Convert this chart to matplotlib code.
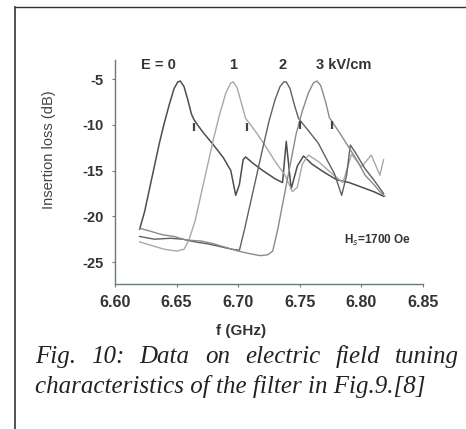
import matplotlib
matplotlib.use('Agg')
import matplotlib.pyplot as plt
from matplotlib.lines import Line2D

plt.rcParams['font.family'] = ['Liberation Sans', 'DejaVu Sans']

# insertion loss curves (f in GHz, loss in dB)
f_e0 = [6.620, 6.624, 6.628, 6.632, 6.636, 6.640, 6.644, 6.648, 6.651, 6.653, 6.656, 6.659,
        6.662, 6.664, 6.667, 6.672, 6.680, 6.688, 6.694, 6.698, 6.701, 6.704, 6.706, 6.712,
        6.720, 6.730, 6.736, 6.739, 6.743, 6.748, 6.753, 6.760, 6.770, 6.780, 6.790, 6.800,
        6.810, 6.818]
il_e0 = [-21.4, -19.5, -17.0, -14.5, -12.0, -9.8, -7.8, -6.0, -5.3, -5.2, -5.8, -7.2,
         -8.8, -9.4, -10.0, -10.9, -12.2, -13.6, -15.0, -17.7, -16.5, -13.8, -13.5, -14.2,
         -15.0, -15.9, -16.3, -11.8, -17.0, -14.5, -13.4, -14.3, -15.2, -16.0, -16.3, -16.8,
         -17.3, -17.8]

f_e1 = [6.620, 6.630, 6.640, 6.650, 6.656, 6.660, 6.665, 6.670, 6.675, 6.680, 6.685, 6.690,
        6.694, 6.696, 6.699, 6.703, 6.706, 6.709, 6.715, 6.722, 6.730, 6.738, 6.744, 6.748,
        6.752, 6.757, 6.765, 6.775, 6.785, 6.792, 6.800, 6.808, 6.815, 6.818]
il_e1 = [-22.8, -23.2, -23.6, -23.8, -23.6, -22.6, -20.5, -17.5, -14.5, -11.5, -8.8, -6.5,
         -5.4, -5.3, -5.9, -7.8, -9.3, -9.8, -10.9, -12.3, -14.0, -15.5, -17.3, -16.8,
         -14.3, -13.3, -14.0, -15.2, -16.3, -13.2, -14.6, -13.3, -15.5, -13.8]

f_e2 = [6.620, 6.632, 6.645, 6.655, 6.665, 6.675, 6.685, 6.695, 6.701, 6.705, 6.710, 6.715,
        6.720, 6.725, 6.730, 6.734, 6.737, 6.739, 6.742, 6.746, 6.749, 6.752, 6.758, 6.765,
        6.772, 6.778, 6.784, 6.788, 6.791, 6.795, 6.803, 6.810, 6.818]
il_e2 = [-22.2, -22.5, -22.4, -22.5, -22.8, -23.0, -23.3, -23.6, -23.7, -21.5, -18.5, -15.5,
         -12.5, -9.6, -7.2, -5.8, -5.3, -5.3, -6.0, -8.0, -9.3, -9.8, -10.8, -12.0,
         -13.8, -15.3, -17.7, -15.5, -12.2, -13.0, -14.8, -16.0, -17.5]

f_e3 = [6.620, 6.628, 6.638, 6.648, 6.658, 6.670, 6.680, 6.690, 6.700, 6.710, 6.718, 6.724,
        6.728, 6.732, 6.737, 6.742, 6.747, 6.752, 6.757, 6.761, 6.764, 6.767, 6.771, 6.774,
        6.777, 6.783, 6.790, 6.797, 6.803, 6.810, 6.815, 6.819]
il_e3 = [-21.3, -21.6, -22.0, -22.2, -22.6, -22.7, -23.0, -23.4, -23.8, -24.1, -24.3, -24.2,
         -23.8, -21.5, -18.0, -14.5, -11.0, -8.5, -6.5, -5.4, -5.2, -5.7, -7.5, -9.2,
         -9.8, -11.0, -12.5, -14.0, -15.5, -16.5, -17.3, -17.8]

# small vertical marks on the falling slopes
mark_f = [6.664, 6.707, 6.750, 6.776]
mark_il = [-10.2, -10.2, -10.0, -10.0]

x_ticks = [6.60, 6.65, 6.70, 6.75, 6.80, 6.85]
x_ticklabels = ['6.60', '6.65', '6.70', '6.75', '6.80', '6.85']
y_ticks = [-5, -10, -15, -20, -25]
y_ticklabels = ['-5', '-10', '-15', '-20', '-25']

field_labels = ['E = 0', '1', '2', '3 kV/cm']
field_label_f = [6.621, 6.693, 6.733, 6.763]

fig = plt.figure(figsize=(4.66, 4.29), dpi=100)
ax = fig.add_axes([115 / 466, 1 - 284 / 429, 308 / 466, 224 / 429])

ax.plot(f_e0, il_e0, color='#4d4d4d', lw=1.1)
ax.plot(f_e1, il_e1, color='#a8a8a8', lw=1.0)
ax.plot(f_e2, il_e2, color='#606060', lw=1.0)
ax.plot(f_e3, il_e3, color='#8a8a8a', lw=1.0)
ax.plot(mark_f, mark_il, ls='none', marker='|', ms=6, mew=1.6, color='#444444')

ax.set_xlim(6.60, 6.85)
ax.set_ylim(-27.4, -2.9)
ax.set_xticks(x_ticks)
ax.set_xticklabels(x_ticklabels)
ax.set_yticks(y_ticks)
ax.set_yticklabels(y_ticklabels)
ax.tick_params(length=2, width=0.8, color='#777777', labelcolor='#333333', pad=6)
ax.tick_params(axis='x', labelsize=11.5)
ax.tick_params(axis='y', labelsize=10.5)
for lab in ax.get_xticklabels() + ax.get_yticklabels():
    lab.set_fontweight('bold')

for s in ['top', 'right']:
    ax.spines[s].set_visible(False)
for s in ['left', 'bottom']:
    ax.spines[s].set_color('#6b7b6b')
    ax.spines[s].set_linewidth(1.0)

ax.set_ylabel('Insertion loss (dB)', fontsize=10.5, color='#444444')
ax.yaxis.set_label_coords(-0.19, 0.6)
ax.set_xlabel('f (GHz)', fontsize=11, color='#333333', fontweight='bold')
ax.xaxis.set_label_coords(0.41, -0.18)

for lab, fx in zip(field_labels, field_label_f):
    ax.text(fx, -3.5, lab, fontsize=10.5, fontweight='bold', color='#333333',
            va='center', ha='left')

ax.text(6.786, -22.6, 'H$_s$=1700 Oe', fontsize=8.5, fontweight='bold',
        color='#333333', va='center')

# caption, first line justified word by word
cap1 = ['Fig.', '10:', 'Data', 'on', 'electric', 'field', 'tuning']
cap2 = 'characteristics of the filter in Fig.9.[8]'
cap_font = dict(family='Liberation Serif', style='italic', fontsize=18, color='#222222')

fig.canvas.draw()
renderer = fig.canvas.get_renderer()
words = [fig.text(0, 0, w, **cap_font) for w in cap1]
widths = [w.get_window_extent(renderer).width for w in words]
x0, x1 = 35, 459
gap = (x1 - x0 - sum(widths)) / (len(words) - 1)
x = x0
for w, wd in zip(words, widths):
    w.set_position((x / 466, 1 - 363 / 429))
    x += wd + gap
fig.text(35 / 466, 1 - 393 / 429, cap2, **cap_font)

# frame lines of the scanned page
fig.add_artist(Line2D([15 / 466, 15 / 466], [0, 1 - 7 / 429], color='#333333', lw=1.2))
fig.add_artist(Line2D([15 / 466, 1], [1 - 7 / 429, 1 - 7 / 429], color='#333333', lw=1.0))

fig.savefig('out.png', dpi=100)
